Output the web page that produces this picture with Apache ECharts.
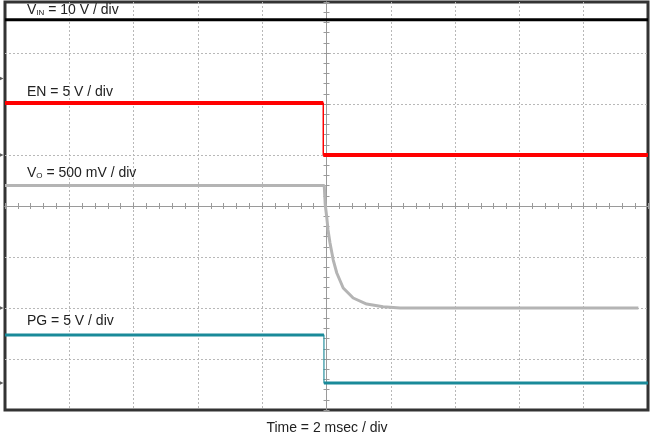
<!DOCTYPE html>
<html><head><meta charset="utf-8">
<script src="https://cdn.jsdelivr.net/npm/echarts@6/dist/echarts.min.js"></script>
<style>html,body{margin:0;padding:0;background:#fff}#c{width:651px;height:434px}</style>
</head><body><div id="c"></div>
<script>
// ---- data (time in ms, signal in volts) ----
const channelNames   = ['VIN', 'EN', 'VO', 'PG'];
const channelScales  = [10, 5, 0.5, 5];          // volts per division
const channelOffsets = [2.5, 1.0, -2.0, -3.47];  // ground level, divisions from screen centre
const channelColors  = ['#000000', '#ff0000', '#b4b4b4', '#1a8a99'];
const vinTrace = [[-10, 11.5], [10, 11.5]];
const enTrace  = [[-10, 5.1], [-0.1, 5.1], [-0.1, 0], [10, 0]];
const voTrace  = [[-10, 1.2], [-0.07, 1.2], [-0.04, 1.015], [0.006, 0.895], [0.047, 0.765],
                  [0.109, 0.637], [0.21, 0.47], [0.32, 0.343], [0.52, 0.196], [0.83, 0.098],
                  [1.25, 0.039], [1.76, 0.013], [2.29, 0], [9.7, 0]];
const pgTrace  = [[-10, 4.7], [-0.08, 4.7], [-0.08, 0], [10, 0]];
const timeRange = [-10, 10];   // ms
const timeStep  = 2;           // ms / div
const divRange  = [-4, 4];     // vertical divisions
const labelTexts = ['{a|V}{s|IN}{a| = 10 V / div}', '{a|EN = 5 V / div}', '{a|V}{s|O}{a| = 500 mV / div}', '{a|PG = 5 V / div}'];
const xLabel = 'Time = 2 msec / div';

// ---- build ----
const traces = [vinTrace, enTrace, voTrace, pgTrace];
function toDiv(tr, i) { return tr.map(p => [p[0], channelOffsets[i] + p[1] / channelScales[i]]); }
function withGaps(d) { // break vertical edges so they are drawn thin
  const out = [];
  for (let k = 0; k < d.length; k++) {
    if (k > 0 && d[k][0] === d[k - 1][0]) out.push([d[k][0], '-']);
    out.push(d[k]);
  }
  return out;
}
const widths = [3, 4, 3, 3];
const series = [];
traces.forEach((tr, i) => {
  const d = toDiv(tr, i);
  series.push({ type: 'line', data: d, showSymbol: false, symbol: 'none', animation: false,
    lineStyle: { color: channelColors[i], width: i === 2 ? 3 : 1.5, opacity: i === 3 ? 0.75 : 1 }, z: 3 });
  if (i !== 2) series.push({ type: 'line', data: withGaps(d), showSymbol: false, symbol: 'none', animation: false,
    connectNulls: false, lineStyle: { color: channelColors[i], width: widths[i] }, z: 4 });
});
series.push({ type: 'scatter', data: channelOffsets.map(o => [timeRange[0], o]), symbol: 'triangle',
  symbolRotate: -90, symbolSize: [5, 5], symbolOffset: [-4, 0], clip: false, silent: true, animation: false,
  itemStyle: { color: '#333' }, z: 6 });

const font = '"Liberation Sans", Arial, sans-serif';
const rich = { a: { fontSize: 14, fontFamily: font, fill: '#222', color: '#222' },
               s: { fontSize: 8, fontFamily: font, fill: '#222', color: '#222', verticalAlign: 'bottom', padding: [6, 0, 0, 0] } };
const labelY = [10, 92, 173, 321];
const graphics = labelTexts.map((t, i) => ({ type: 'text', x: 27, y: labelY[i], z: 10,
  style: { text: t, rich: rich, verticalAlign: 'middle', align: 'left', fontSize: 14, fontFamily: font, fill: '#222' } }));
graphics.push({ type: 'text', x: 327, y: 428, z: 10, style: { text: xLabel, align: 'center', verticalAlign: 'middle',
  fontSize: 14, fontFamily: font, fill: '#222' } });

const gridLine = { show: true, showMinLine: false, showMaxLine: false, lineStyle: { color: '#b8b8b8', type: [2, 2], width: 1 } };
function xAx(pos, split) {
  return { type: 'value', min: timeRange[0], max: timeRange[1], interval: timeStep, position: pos,
    axisLine: { show: true, onZero: true, lineStyle: { color: '#9a9a9a', width: 1 } },
    axisTick: { show: true, inside: false, length: 3, lineStyle: { color: '#9a9a9a' } },
    minorTick: { show: true, splitNumber: 5, length: 3, lineStyle: { color: '#9a9a9a' } },
    axisLabel: { show: false }, splitLine: split ? gridLine : { show: false }, minorSplitLine: { show: false } };
}
function yAx(pos, split) {
  return { type: 'value', min: divRange[0], max: divRange[1], interval: 1, position: pos,
    axisLine: { show: true, onZero: true, lineStyle: { color: '#9a9a9a', width: 1 } },
    axisTick: { show: true, inside: false, length: 3, lineStyle: { color: '#9a9a9a' } },
    minorTick: { show: true, splitNumber: 5, length: 3, lineStyle: { color: '#9a9a9a' } },
    axisLabel: { show: false }, splitLine: split ? gridLine : { show: false }, minorSplitLine: { show: false } };
}
series.forEach(s => { s.xAxisIndex = 0; s.yAxisIndex = 0; });
const chart = echarts.init(document.getElementById('c'), null, { renderer: 'canvas' });
chart.setOption({
  animation: false,
  backgroundColor: '#fff',
  grid: { left: 5, right: 3, top: 2, bottom: 24, show: true, borderColor: '#333', borderWidth: 3, backgroundColor: '#fff', containLabel: false },
  xAxis: [xAx('bottom', true), xAx('top', false)],
  yAxis: [yAx('left', true), yAx('right', false)],
  series: series,
  graphic: graphics
});
</script></body></html>
